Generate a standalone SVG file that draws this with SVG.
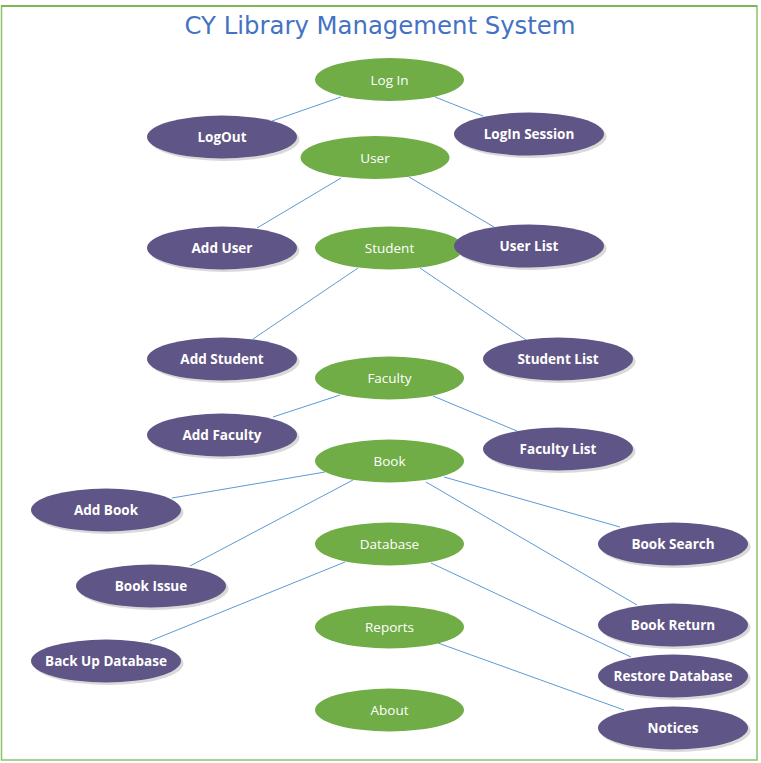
<svg xmlns="http://www.w3.org/2000/svg" width="761" height="763" viewBox="0 0 761 763">
<defs>
<style>
.g{fill:#70ad47}
.p{fill:#5f5586}
.sh{fill:#d9d9d9}
.gt{font-family:"Open Sans","Liberation Sans",sans-serif;font-size:13.5px;fill:#ffffff;text-anchor:middle}
.pt{font-family:"Open Sans","Liberation Sans",sans-serif;font-size:13.5px;font-weight:bold;fill:#ffffff;text-anchor:middle}
.c line{stroke:#5b9bd5;stroke-width:1}
</style>
</defs>
<rect x="0" y="0" width="761" height="763" fill="#ffffff"/>
<rect x="1.5" y="6" width="755.5" height="754" fill="none" stroke="#8dc26a" stroke-width="1.5"/>
<line x1="1" y1="6" x2="757" y2="6" stroke="#70ad47" stroke-width="1.5"/>
<text x="380" y="34" font-family="'Comic Sans MS','DejaVu Sans',sans-serif" font-size="24" fill="#4472c4" text-anchor="middle" textLength="391" lengthAdjust="spacingAndGlyphs">CY Library Management System</text>
<g id="connectors" class="c">
<line x1="341" y1="97" x2="272" y2="121"/>
<line x1="435" y1="97" x2="483" y2="116"/>
<line x1="341" y1="178" x2="257" y2="228"/>
<line x1="409" y1="177" x2="494" y2="227"/>
<line x1="358" y1="268" x2="253" y2="339"/>
<line x1="420" y1="268" x2="526" y2="340"/>
<line x1="340" y1="395" x2="273" y2="417"/>
<line x1="433" y1="396" x2="517" y2="431"/>
<line x1="325" y1="472" x2="172" y2="498"/>
<line x1="353" y1="480" x2="190" y2="566"/>
<line x1="444" y1="477" x2="620" y2="527"/>
<line x1="426" y1="482" x2="637" y2="605"/>
<line x1="345" y1="562" x2="150" y2="641"/>
<line x1="431" y1="563" x2="631" y2="657"/>
<line x1="438" y1="643" x2="624" y2="710"/>
</g>
<g id="login"><ellipse class="g" cx="389.5" cy="79.5" rx="74.5" ry="21.5"/><text class="gt" x="389.5" y="84.5">Log In</text></g>
<g id="logout"><ellipse class="sh" cx="224.5" cy="139.5" rx="75" ry="21.5"/><ellipse class="p" cx="222" cy="137" rx="75" ry="21.5"/><text class="pt" x="222" y="142">LogOut</text></g>
<g id="loginsession"><ellipse class="sh" cx="531.5" cy="136.5" rx="75" ry="21.5"/><ellipse class="p" cx="529" cy="134" rx="75" ry="21.5"/><text class="pt" x="529" y="139">LogIn Session</text></g>
<g id="user"><ellipse class="g" cx="375" cy="157.5" rx="74.5" ry="21.5"/><text class="gt" x="375" y="162.5">User</text></g>
<g id="adduser"><ellipse class="sh" cx="224.5" cy="250.5" rx="75" ry="21.5"/><ellipse class="p" cx="222" cy="248" rx="75" ry="21.5"/><text class="pt" x="222" y="253">Add User</text></g>
<g id="student"><ellipse class="g" cx="389.5" cy="248" rx="74.5" ry="21.5"/><text class="gt" x="389.5" y="253">Student</text></g>
<g id="userlist"><ellipse class="sh" cx="531.5" cy="248.5" rx="75" ry="21.5"/><ellipse class="p" cx="529" cy="246" rx="75" ry="21.5"/><text class="pt" x="529" y="251">User List</text></g>
<g id="addstudent"><ellipse class="sh" cx="224.5" cy="361.5" rx="75" ry="21.5"/><ellipse class="p" cx="222" cy="359" rx="75" ry="21.5"/><text class="pt" x="222" y="364">Add Student</text></g>
<g id="studentlist"><ellipse class="sh" cx="560.5" cy="361.5" rx="75" ry="21.5"/><ellipse class="p" cx="558" cy="359" rx="75" ry="21.5"/><text class="pt" x="558" y="364">Student List</text></g>
<g id="faculty"><ellipse class="g" cx="389.5" cy="378" rx="74.5" ry="21.5"/><text class="gt" x="389.5" y="383">Faculty</text></g>
<g id="addfaculty"><ellipse class="sh" cx="224.5" cy="437.5" rx="75" ry="21.5"/><ellipse class="p" cx="222" cy="435" rx="75" ry="21.5"/><text class="pt" x="222" y="440">Add Faculty</text></g>
<g id="facultylist"><ellipse class="sh" cx="560.5" cy="451.5" rx="75" ry="21.5"/><ellipse class="p" cx="558" cy="449" rx="75" ry="21.5"/><text class="pt" x="558" y="454">Faculty List</text></g>
<g id="book"><ellipse class="g" cx="389.5" cy="461" rx="74.5" ry="21.5"/><text class="gt" x="389.5" y="466">Book</text></g>
<g id="addbook"><ellipse class="sh" cx="108.5" cy="512.5" rx="75" ry="21.5"/><ellipse class="p" cx="106" cy="510" rx="75" ry="21.5"/><text class="pt" x="106" y="515">Add Book</text></g>
<g id="booksearch"><ellipse class="sh" cx="675.5" cy="546.5" rx="75" ry="21.5"/><ellipse class="p" cx="673" cy="544" rx="75" ry="21.5"/><text class="pt" x="673" y="549">Book Search</text></g>
<g id="database"><ellipse class="g" cx="389.5" cy="544" rx="74.5" ry="21.5"/><text class="gt" x="389.5" y="549">Database</text></g>
<g id="bookissue"><ellipse class="sh" cx="153.5" cy="588.5" rx="75" ry="21.5"/><ellipse class="p" cx="151" cy="586" rx="75" ry="21.5"/><text class="pt" x="151" y="591">Book Issue</text></g>
<g id="reports"><ellipse class="g" cx="389.5" cy="627" rx="74.5" ry="21.5"/><text class="gt" x="389.5" y="632">Reports</text></g>
<g id="bookreturn"><ellipse class="sh" cx="675.5" cy="627.5" rx="75" ry="21.5"/><ellipse class="p" cx="673" cy="625" rx="75" ry="21.5"/><text class="pt" x="673" y="630">Book Return</text></g>
<g id="backupdatabase"><ellipse class="sh" cx="108.5" cy="663.5" rx="75" ry="21.5"/><ellipse class="p" cx="106" cy="661" rx="75" ry="21.5"/><text class="pt" x="106" y="666">Back Up Database</text></g>
<g id="restoredatabase"><ellipse class="sh" cx="675.5" cy="678.5" rx="75" ry="21.5"/><ellipse class="p" cx="673" cy="676" rx="75" ry="21.5"/><text class="pt" x="673" y="681">Restore Database</text></g>
<g id="about"><ellipse class="g" cx="389.5" cy="710" rx="74.5" ry="21.5"/><text class="gt" x="389.5" y="715">About</text></g>
<g id="notices"><ellipse class="sh" cx="675.5" cy="730.5" rx="75" ry="21.5"/><ellipse class="p" cx="673" cy="728" rx="75" ry="21.5"/><text class="pt" x="673" y="733">Notices</text></g>
</svg>
